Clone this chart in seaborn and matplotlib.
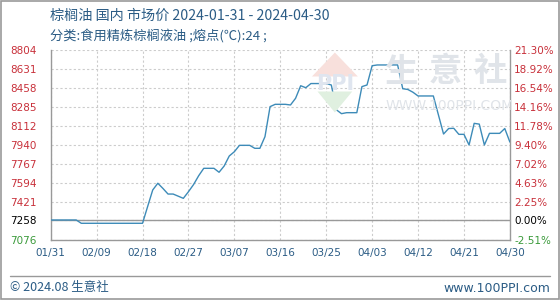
import matplotlib
matplotlib.use("Agg")
import matplotlib.pyplot as plt
from matplotlib.patches import Polygon, Rectangle
import seaborn as sns
import pandas as pd

# ---------------- data ----------------
start = "2024-01-31"
day_offsets = [0, 1, 2, 5, 6, 7, 8, 18, 19, 20, 21, 22, 23, 24, 26, 27, 28, 29, 30, 31,
               32, 33, 34, 35, 36, 37, 38, 39, 40, 41, 42, 43, 44, 45, 46, 47, 48, 49, 50,
               51, 52, 53, 54, 55, 56, 57, 58, 59, 60, 61, 62, 63, 64, 65, 66, 67, 68, 69,
               70, 71, 72, 73, 74, 75, 77, 78, 79, 80, 81, 82, 83, 84, 85, 86, 87, 88, 89, 90]
prices = [7258, 7258, 7258, 7258, 7228, 7228, 7228, 7228, 7380, 7531, 7592, 7545, 7494, 7494,
          7455, 7515, 7580, 7660, 7728, 7728, 7728, 7692, 7749, 7840, 7879, 7937, 7937, 7937,
          7910, 7910, 8016, 8289, 8310, 8310, 8310, 8304, 8365, 8479, 8461, 8499, 8499, 8499,
          8499, 8486, 8260, 8225, 8234, 8234, 8234, 8471, 8486, 8661, 8668, 8668, 8668, 8668,
          8668, 8452, 8445, 8420, 8386, 8386, 8386, 8386, 8040, 8090, 8092, 8037, 8037, 7940,
          8137, 8130, 7940, 8046, 8046, 8046, 8090, 7967]
left_ticks = [8804, 8631, 8458, 8285, 8112, 7940, 7767, 7594, 7421, 7258, 7076]
right_labels = ["21.30%", "18.92%", "16.54%", "14.16%", "11.78%", "9.40%", "7.02%",
                "4.63%", "2.25%", "0.00%", "-2.51%"]
x_labels = ["01/31", "02/09", "02/18", "02/27", "03/07", "03/16", "03/25",
            "04/03", "04/12", "04/21", "04/30"]
base_price = 7258
title = "棕榈油 国内 市场价 2024-01-31 - 2024-04-30"
subtitle = "分类:食用精炼棕榈液油 ;熔点(℃):24 ;"
footer_left = "© 2024.08 生意社"
footer_right = "www.100PPI.com"
watermark_chars = ["生", "意", "社"]
watermark_url = "WWW.100PPI.COM"

dates = pd.to_datetime(start) + pd.to_timedelta(day_offsets, unit="D")
df = pd.DataFrame({"date": dates, "price": prices})

# ---------------- style ----------------
sns.set_theme(style="white")
plt.rcParams["font.family"] = ["DejaVu Sans", "Noto Sans CJK SC"]
cjk = ["Noto Sans CJK SC", "DejaVu Sans"]

red = "#c8303a"
green = "#3a9a3a"
blue_txt = "#2b5c85"
grid_c = "#cccccc"

fig = plt.figure(figsize=(5.6, 3.0), dpi=100)
fig.patch.set_facecolor("white")
ax = fig.add_axes([0.0905, 0.2, 0.82, 0.6333])

# watermark (behind data)
wm = "#e0e4e9"
for ch, xc in zip(watermark_chars, [0.717, 0.796, 0.876]):
    fig.text(xc, 0.76, ch, family=cjk, fontsize=24, color=wm, ha="center", va="center",
             fontweight="bold", zorder=0)
fig.text(0.688, 0.645, watermark_url, fontsize=10, color=wm, ha="left", va="center", zorder=0)
logo_top = Polygon([[0.557, 0.745], [0.598, 0.825], [0.639, 0.745]], closed=True,
                   transform=fig.transFigure, facecolor="#f8e0dc", edgecolor="none", zorder=0)
logo_bot = Polygon([[0.567, 0.695], [0.598, 0.625], [0.629, 0.695]], closed=True,
                   transform=fig.transFigure, facecolor="#e0f0e0", edgecolor="none", zorder=0)
fig.patches.extend([logo_top, logo_bot])
fig.text(0.598, 0.72, "PPI", fontsize=15, color="#dfe5ef", ha="center", va="center",
         fontweight="bold", zorder=0)

ax.set_facecolor("none")
sns.lineplot(data=df, x="date", y="price", ax=ax, color="#3d8bb8", linewidth=1.0, zorder=3)

x0 = pd.to_datetime(start)
x1 = x0 + pd.Timedelta(days=90)
ax.set_xlim(x0, x1)
ax.set_ylim(left_ticks[-1], left_ticks[0])

xt = [x0 + pd.Timedelta(days=9 * i) for i in range(len(x_labels))]
ax.set_xticks(xt)
ax.set_xticklabels(x_labels, fontsize=7.5, color=blue_txt)
ax.set_yticks(left_ticks)
ax.set_yticklabels([str(v) for v in left_ticks], fontsize=7.5)
for lab, v in zip(ax.get_yticklabels(), left_ticks):
    lab.set_color("black" if v == base_price else (green if v < base_price else red))

ax.tick_params(axis="both", length=0, pad=6)
ax.tick_params(axis="y", pad=10)
ax.grid(True, color=grid_c, linestyle=(0, (2, 2)), linewidth=0.8)
ax.axhline(base_price, color="#999999", linewidth=1.0, zorder=2)
for s in ["left", "bottom", "right"]:
    ax.spines[s].set_color("#999999")
    ax.spines[s].set_linewidth(1.0)
ax.spines["top"].set_visible(False)
ax.set_xlabel("")
ax.set_ylabel("")

# right axis
ax2 = ax.twinx()
ax2.set_ylim(ax.get_ylim())
pct_vals = [float(s.rstrip("%")) for s in right_labels]
ax2.set_yticks([base_price * (1 + p / 100) for p in pct_vals])
ax2.set_yticklabels(right_labels, fontsize=7.5)
for lab, p in zip(ax2.get_yticklabels(), pct_vals):
    lab.set_color("black" if p == 0 else (green if p < 0 else red))
ax2.tick_params(axis="y", length=0, pad=3)
for s in ax2.spines.values():
    s.set_visible(False)
ax2.grid(False)

# titles
fig.text(0.089, 0.948, title, family=cjk, fontsize=10.2, color=blue_txt, ha="left", va="center")
fig.text(0.089, 0.882, subtitle, family=cjk, fontsize=9.5, color=blue_txt, ha="left", va="center")

# footer
fig.add_artist(plt.Line2D([0.018, 0.982], [0.08, 0.08], transform=fig.transFigure,
                          color="#999999", linewidth=1.0))
fig.text(0.018, 0.04, footer_left, family=cjk, fontsize=9, color=blue_txt, ha="left", va="center")
fig.text(0.982, 0.04, footer_right, fontsize=9, color=blue_txt, ha="right", va="center")

# outer border
fig.patches.append(Rectangle((0.001, 0.002), 0.997, 0.995, transform=fig.transFigure,
                             fill=False, edgecolor="#999999", linewidth=1.2))

fig.savefig("out.png", dpi=100)
